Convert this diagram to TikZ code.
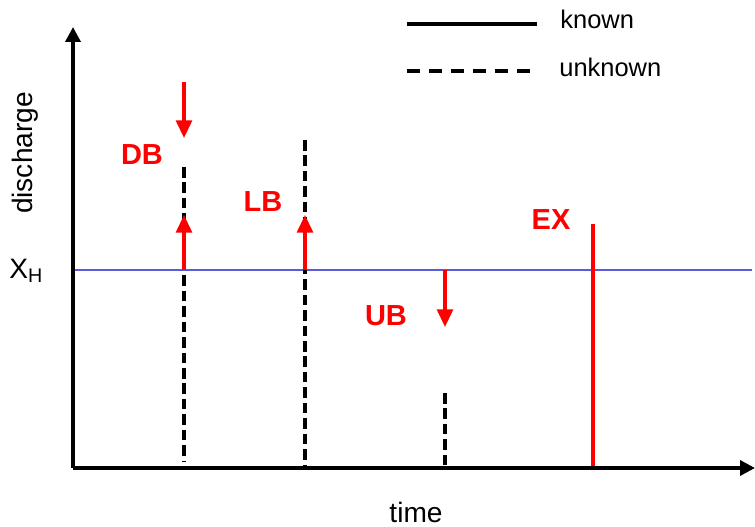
\documentclass[tikz,border=0pt]{standalone}
\usepackage{fontspec}
\setmainfont{Liberation Sans}
\usetikzlibrary{arrows.meta}

\begin{document}
\begin{tikzpicture}[x=0.02cm,y=-0.02cm,
    axisline/.style={line width=2pt,-{Triangle[length=8.5pt,width=8.5pt]}},
    boundarrow/.style={red,line width=1.8pt,-{Triangle[length=10pt,width=9pt]}}]

    % `knownline' and `unknownline' are the discharge marks.
    % `boundarrow' points away from the threshold.
    % `boundlabel' is used for the red tags.
    \tikzstyle{knownline} = [line width=1.8pt]
    \tikzstyle{unknownline} = [line width=1.8pt,dash pattern=on 6pt off 2.8pt]
    \tikzstyle{legenddash} = [line width=1.8pt,dash pattern=on 7.5pt off 5pt]
    \tikzstyle{boundlabel} = [text=red,font=\bfseries\fontsize{16.5}{19}\selectfont]
    \tikzstyle{axislabel} = [font=\fontsize{16}{19}\selectfont]
    %
    \useasboundingbox (0,0) rectangle (755,527);

    % Axes and threshold.
    \coordinate (origin) at (73,468);
    \coordinate (ytop) at (73,27);
    \coordinate (xend) at (755,468);
    \coordinate (hstart) at (73,270);
    \coordinate (hend) at (752,270);
    \draw[line width=0.9pt,color={rgb,255:red,90;green,90;blue,220}] (hstart) -- (hend);

    % Marks.
    \coordinate (db top) at (184,167);
    \coordinate (db bot) at (184,462);
    \coordinate (lb top) at (305,140);
    \coordinate (lb bot) at (305,468);
    \coordinate (ub top) at (445,393);
    \coordinate (ub bot) at (445,468);
    \coordinate (ex top) at (593,224);
    \coordinate (ex bot) at (593,468);
    \draw[unknownline] (db top) -- (db bot);
    \draw[unknownline] (lb top) -- (lb bot);
    \draw[unknownline] (ub top) -- (ub bot);
    \draw[knownline,red] (ex top) -- (ex bot);

    % Arrows.
    \coordinate (db base) at (184,270);
    \coordinate (db tip) at (184,215);
    \coordinate (db from) at (184,82);
    \coordinate (db to) at (184,138);
    \coordinate (lb base) at (305,270);
    \coordinate (lb tip) at (305,215);
    \coordinate (ub base) at (445,270);
    \coordinate (ub tip) at (445,327);
    \draw[boundarrow] (db base) -- (db tip);
    \draw[boundarrow] (db from) -- (db to);
    \draw[boundarrow] (lb base) -- (lb tip);
    \draw[boundarrow] (ub base) -- (ub tip);

    \node[boundlabel] (DB) at (142,155) {DB};
    \node[boundlabel] (LB) at (263,202) {LB};
    \node[boundlabel] (UB) at (386,316) {UB};
    \node[boundlabel] (EX) at (551,220) {EX};

    \draw[axisline] (origin) -- (ytop);
    \draw[axisline] (origin) -- (xend);

    \node[axislabel,rotate=90] (ylab) at (25,153) {discharge};
    \node[axislabel] (xlab) at (416,512) {time};
    \node[axislabel,anchor=base west,inner sep=0pt] (XH) at (9,278) {X\textsubscript{H}};

    % Legend.
    \coordinate (k1) at (407,24);
    \coordinate (k2) at (537,24);
    \coordinate (u1) at (407,71);
    \coordinate (u2) at (537,71);
    \draw[knownline] (k1) -- (k2);
    \draw[legenddash] (u1) -- (u2);
    \node[anchor=base west,inner sep=0pt,font=\fontsize{14.5}{17}\selectfont] (known) at (560,29) {known};
    \node[anchor=base west,inner sep=0pt,font=\fontsize{14.5}{17}\selectfont] (unknown) at (559,77) {unknown};
\end{tikzpicture}
\end{document}
